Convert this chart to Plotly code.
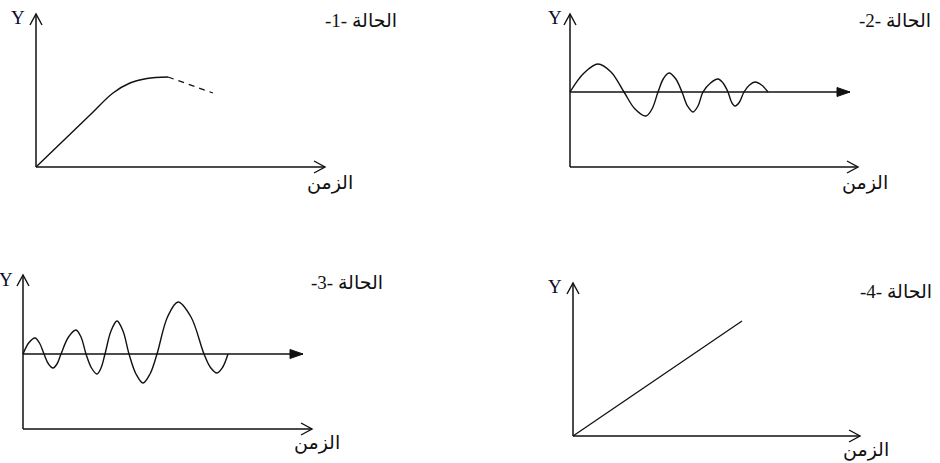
import plotly.graph_objects as go

# ---------------- data (time units / Y units) ----------------
case1_t = [0.0, 5.4, 7.7, 9.4, 11.1, 13.2]
case1_y = [0.0, 5.2, 7.4, 8.4, 8.85, 9.0]
case1_dash_t = [13.2, 17.7]
case1_dash_y = [9.0, 7.4]

case2_t = [0.0, 1.4, 2.8, 4.1, 5.4, 6.5, 7.6, 8.2, 8.8, 9.35, 9.9, 10.55, 11.2, 11.75, 12.3,
           12.8, 13.3, 14.05, 14.8, 15.3, 15.8, 16.15, 16.5, 16.95, 17.4, 17.95, 18.5, 19.15, 19.8]
case2_y = [0.0, 1.9, 2.8, 2.0, 0.0, -1.7, -2.4, -1.7, 0.0, 1.35, 1.9, 1.35, 0.0, -1.4, -2.0,
           -1.4, 0.0, 0.9, 1.3, 0.9, 0.0, -1.0, -1.4, -1.0, 0.0, 0.7, 1.0, 0.7, 0.0]

case3_t = [0.0, 0.6, 1.2, 1.65, 2.1, 2.55, 3.0, 3.4, 3.8, 4.55, 5.3, 5.8, 6.3, 6.85, 7.4, 7.8,
           8.2, 8.8, 9.4, 10.0, 10.6, 11.3, 12.0, 12.7, 13.4, 14.45, 15.5, 16.8, 18.1, 18.75,
           19.4, 19.95, 20.5]
case3_y = [0.0, 1.15, 1.6, 1.1, 0.0, -1.0, -1.4, -1.0, 0.0, 1.7, 2.4, 1.7, 0.0, -1.4, -2.0, -1.4,
           0.0, 2.3, 3.3, 2.3, 0.0, -2.0, -2.9, -2.0, 0.0, 3.7, 5.2, 3.7, 0.0, -1.35,
           -1.9, -1.35, 0.0]

case4_t = [0.0, 16.9]
case4_y = [0.0, 11.5]

case_titles = ["\u202bالحالة -1-\u202c", "\u202bالحالة -2-\u202c",
               "\u202bالحالة -3-\u202c", "\u202bالحالة -4-\u202c"]
time_label = "الزمن"
y_label = "Y"

# ---------------- layout helpers ----------------
W, H = 940, 463
SCALE = 10.0  # pixels per unit

# panel box (px: x0, x1, y0, y1 top-down) and pixel position of data origin
panels = [
    dict(box=(0, 470, 0, 231), org=(36, 167)),
    dict(box=(470, 940, 0, 231), org=(570, 92)),
    dict(box=(0, 470, 231, 463), org=(23, 354)),
    dict(box=(470, 940, 231, 463), org=(573, 436)),
]

fig = go.Figure()
layout_axes = {}
for i, p in enumerate(panels):
    bx0, bx1, by0, by1 = p["box"]
    ox, oy = p["org"]
    sfx = "" if i == 0 else str(i + 1)
    layout_axes["xaxis" + sfx] = dict(
        domain=[bx0 / W, bx1 / W], range=[(bx0 - ox) / SCALE, (bx1 - ox) / SCALE],
        visible=False, anchor="y" + sfx, fixedrange=True)
    layout_axes["yaxis" + sfx] = dict(
        domain=[(H - by1) / H, (H - by0) / H], range=[(oy - by1) / SCALE, (oy - by0) / SCALE],
        visible=False, anchor="x" + sfx, fixedrange=True)

LC = "#111111"
AXC = "#111111"

def ref(i):
    return ("x" if i == 0 else "x" + str(i + 1)), ("y" if i == 0 else "y" + str(i + 1))

# curves
curves = [(case1_t, case1_y, 1.0), (case2_t, case2_y, 1.0), (case3_t, case3_y, 1.0), (case4_t, case4_y, 0)]
for i, (t, y, sm) in enumerate(curves):
    xr, yr = ref(i)
    line = dict(color=LC, width=1.4, shape="spline", smoothing=sm) if sm else dict(color=LC, width=1.3)
    fig.add_trace(go.Scatter(x=t, y=y, mode="lines", xaxis=xr, yaxis=yr, line=line,
                             hoverinfo="skip", showlegend=False))
fig.add_trace(go.Scatter(x=case1_dash_t, y=case1_dash_y, mode="lines", xaxis="x", yaxis="y",
                         line=dict(color=LC, width=1.3, dash="6px,5px"),
                         hoverinfo="skip", showlegend=False))

shapes = []
annotations = []

def axis_line(i, x0, y0, x1, y1):
    xr, yr = ref(i)
    shapes.append(dict(type="line", xref=xr, yref=yr, x0=x0, y0=y0, x1=x1, y1=y1,
                       line=dict(color=AXC, width=1.5)))

def open_head(i, x, y, direction):
    xr, yr = ref(i)
    path = "M-6,-11 L0,0 L6,-11" if direction == "up" else "M-11,6 L0,0 L-11,-6"
    shapes.append(dict(type="path", xref=xr, yref=yr, xsizemode="pixel", ysizemode="pixel",
                       xanchor=x, yanchor=y, path=path, line=dict(color=AXC, width=1.4)))

def filled_head(i, x, y):
    xr, yr = ref(i)
    shapes.append(dict(type="path", xref=xr, yref=yr, xsizemode="pixel", ysizemode="pixel",
                       xanchor=x, yanchor=y, path="M-13,4.5 L0,0 L-13,-4.5 Z",
                       fillcolor=AXC, line=dict(color=AXC, width=1)))

# panel 1
axis_line(0, 0, 0, 0, 15.3); open_head(0, 0, 15.3, "up")
axis_line(0, 0, 0, 28.9, 0); open_head(0, 28.9, 0, "right")
# panel 2
axis_line(1, 0, -7.5, 0, 7.8); open_head(1, 0, 7.8, "up")
axis_line(1, 0, -7.5, 28.8, -7.5); open_head(1, 28.8, -7.5, "right")
axis_line(1, 0, 0, 28.0, 0); filled_head(1, 28.0, 0)
# panel 3
axis_line(2, 0, -7.5, 0, 7.9); open_head(2, 0, 7.9, "up")
axis_line(2, 0, -7.5, 28.9, -7.5); open_head(2, 28.9, -7.5, "right")
axis_line(2, 0, 0, 28.0, 0); filled_head(2, 28.0, 0)
# panel 4
axis_line(3, 0, 0, 0, 15.3); open_head(3, 0, 15.3, "up")
axis_line(3, 0, 0, 28.7, 0); open_head(3, 28.7, 0, "right")

ARFONT = dict(family="Liberation Serif, DejaVu Sans", size=19, color="#111111")
YFONT = dict(family="Liberation Serif, Times New Roman, serif", size=19, color="#0d0d2e")

title_pos = [(32.5, 14.7), (32.5, 7.2), (32.4, 7.2), (32.3, 14.5)]
time_pos = [(29.4, -1.6), (29.5, -9.1), (29.4, -8.9), (29.3, -1.4)]
ylab_pos = [(-1.8, 15.0), (-1.5, 7.5), (-1.7, 7.5), (-1.8, 15.0)]

for i in range(4):
    xr, yr = ref(i)
    annotations.append(dict(x=title_pos[i][0], y=title_pos[i][1], xref=xr, yref=yr,
                            text=case_titles[i], showarrow=False, font=ARFONT))
    annotations.append(dict(x=time_pos[i][0], y=time_pos[i][1], xref=xr, yref=yr,
                            text=time_label, showarrow=False, font=ARFONT))
    annotations.append(dict(x=ylab_pos[i][0], y=ylab_pos[i][1], xref=xr, yref=yr,
                            text=y_label, showarrow=False, font=YFONT))

fig.update_layout(
    width=W, height=H, margin=dict(l=0, r=0, t=0, b=0),
    paper_bgcolor="white", plot_bgcolor="white", showlegend=False,
    shapes=shapes, annotations=annotations, **layout_axes)

fig.write_html("out.html", config={"displayModeBar": False},
               post_script="document.body.style.margin='0';document.body.style.padding='0';")
